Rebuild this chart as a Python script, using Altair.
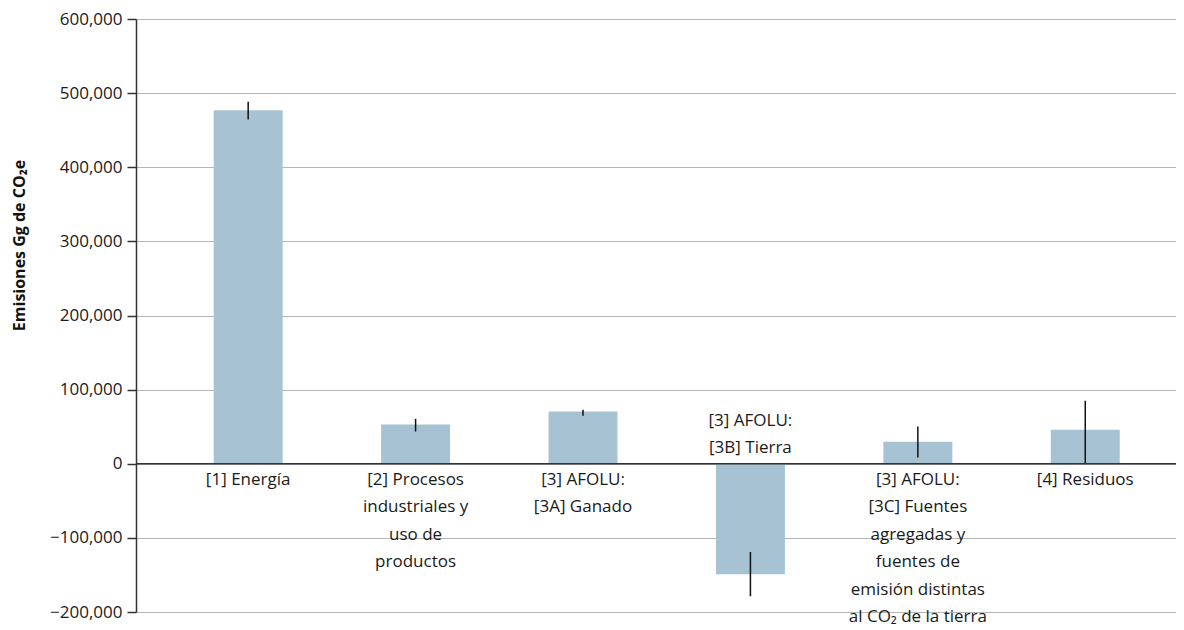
import altair as alt
import pandas as pd

categories = ["c1", "c2", "c3", "c4", "c5", "c6"]
labels = [
    "[1] Energía",
    "[2] Procesos\nindustriales y\nuso de\nproductos",
    "[3] AFOLU:\n[3A] Ganado",
    "[3] AFOLU:\n[3B] Tierra",
    "[3] AFOLU:\n[3C] Fuentes\nagregadas y\nfuentes de\nemisión distintas\nal CO₂ de la tierra",
    "[4] Residuos",
]
values = [477000, 53000, 70500, -149000, 29600, 45800]
err_low = [464500, 43500, 64700, -178800, 8500, 1000]
err_high = [488300, 60600, 72800, -119000, 50300, 85000]
y_ticks = [-200000, -100000, 0, 100000, 200000, 300000, 400000, 500000, 600000]

df = pd.DataFrame({
    "cat": categories,
    "label": labels,
    "value": values,
    "lo": err_low,
    "hi": err_high,
})

FONT = "Open Sans"
W, H = 1040, 593

xscale = alt.Scale(domain=categories, paddingInner=0.588, paddingOuter=0.4, align=0.58)
yscale = alt.Scale(domain=[-200000, 600000], nice=False, zero=False)

x_enc = alt.X("cat:N", scale=xscale, axis=None, sort=categories)

base = alt.Chart(df)

bars = base.mark_bar(color="#a7c3d3").encode(
    x=x_enc,
    y=alt.Y(
        "value:Q",
        scale=yscale,
        axis=alt.Axis(
            values=y_ticks,
            format=",d",
            labelFont=FONT,
            labelFontSize=17,
            labelColor="#1a1a1a",
            labelPadding=5,
            tickSize=9,
            tickColor="#333333",
            tickWidth=1.5,
            domainColor="#333333",
            domainWidth=1.5,
            grid=True,
            gridColor="#b5b5b5",
            gridWidth=1,
            title="Emisiones Gg de CO₂e",
            titleFont=FONT,
            titleFontSize=16,
            titleFontWeight="bold",
            titleColor="#111111",
            titleAngle=-90,
            titleX=-117,
            titleY=226,
            titleAlign="center",
            titleBaseline="middle",
        ),
    ),
    y2=alt.datum(0),
)

zero = alt.Chart(pd.DataFrame({"z": [0]})).mark_rule(color="#333333", strokeWidth=1.5).encode(
    y=alt.Y("z:Q", scale=yscale)
)

errs = base.mark_rule(color="#111111", strokeWidth=1.5).encode(
    x=x_enc,
    y=alt.Y("lo:Q", scale=yscale),
    y2="hi:Q",
)

text_pos = base.transform_filter("datum.value >= 0").mark_text(
    font=FONT, fontSize=17, color="#1a1a1a", baseline="top", align="center",
    lineBreak="\n", lineHeight=27.5, dy=8,
).encode(
    x=x_enc,
    y=alt.Y("zy:Q", scale=yscale),
    text="label:N",
).transform_calculate(zy="0")

text_neg = base.transform_filter("datum.value < 0").mark_text(
    font=FONT, fontSize=17, color="#1a1a1a", baseline="bottom", align="center",
    lineBreak="\n", lineHeight=27, dy=-34,
).encode(
    x=x_enc,
    y=alt.Y("zy:Q", scale=yscale),
    text="label:N",
).transform_calculate(zy="0")

chart = alt.layer(bars, zero, errs, text_pos, text_neg).properties(
    width=W,
    height=H,
    autosize=alt.AutoSizeParams(type="none"),
    padding={"left": 128, "top": 11, "right": 0, "bottom": 14},
).configure_view(stroke=None).configure(background="white")

chart.save("out.html", embed_options={"renderer": "svg", "actions": False})
